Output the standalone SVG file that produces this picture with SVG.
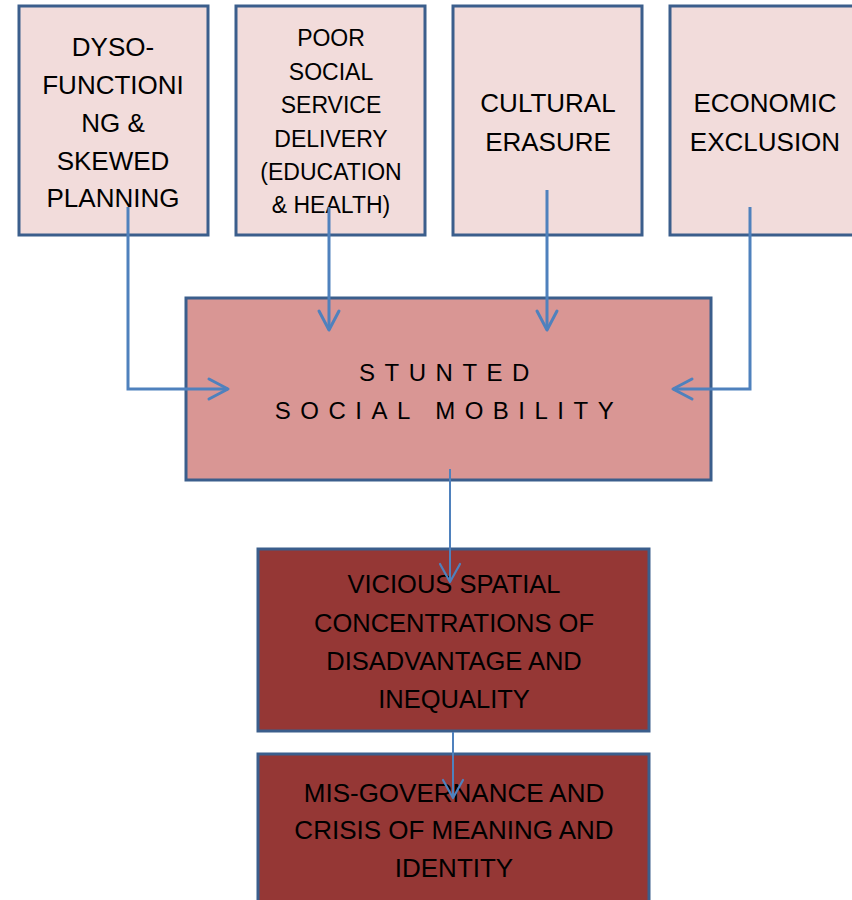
<svg xmlns="http://www.w3.org/2000/svg" width="852" height="900" viewBox="0 0 852 900">
<style>
.top{fill:#f2dcdb;stroke:#3b5e8c;stroke-width:3}
.mid{fill:#d99694;stroke:#3b5e8c;stroke-width:3}
.dark{fill:#953735;stroke:#3b5e8c;stroke-width:3}
text{font-family:"Liberation Sans",Arial,sans-serif;fill:#000;text-anchor:middle}
.conn{fill:none;stroke:#4f81bd;stroke-width:3;stroke-linejoin:miter}
.thin{fill:none;stroke:#4f81bd;stroke-width:2}
</style>
<defs>
<marker id="ah" markerUnits="userSpaceOnUse" viewBox="-24 -14 28 28" markerWidth="28" markerHeight="28" refX="0" refY="0" orient="auto">
<path d="M-19,-10 L0,0 L-19,10" fill="none" stroke="#4f81bd" stroke-width="3" stroke-linecap="round" stroke-linejoin="round"/>
</marker>
<marker id="ahs" markerUnits="userSpaceOnUse" viewBox="-24 -14 28 28" markerWidth="28" markerHeight="28" refX="0" refY="0" orient="auto">
<path d="M-18,-10 L0,0 L-18,10" fill="none" stroke="#4f81bd" stroke-width="2.2" stroke-linecap="round" stroke-linejoin="round"/>
</marker>
</defs>
<g id="node-dyso">
<rect class="top" x="19" y="6" width="189" height="229"/>
<text font-size="26"><tspan x="113" y="56">DYSO-</tspan><tspan x="113" y="94">FUNCTIONI</tspan><tspan x="113" y="132">NG &amp;</tspan><tspan x="113" y="170">SKEWED</tspan><tspan x="113" y="207">PLANNING</tspan></text>
</g>
<g id="node-poor">
<rect class="top" x="236" y="6" width="189" height="229"/>
<text font-size="23"><tspan x="331" y="46">POOR</tspan><tspan x="331" y="80">SOCIAL</tspan><tspan x="331" y="113">SERVICE</tspan><tspan x="331" y="147">DELIVERY</tspan><tspan x="331" y="180">(EDUCATION</tspan><tspan x="331" y="213">&amp; HEALTH)</tspan></text>
</g>
<g id="node-cultural">
<rect class="top" x="453" y="6" width="189" height="229"/>
<text font-size="26"><tspan x="548" y="112">CULTURAL</tspan><tspan x="548" y="151">ERASURE</tspan></text>
</g>
<g id="node-economic">
<rect class="top" x="670" y="6" width="200" height="229"/>
<text font-size="26"><tspan x="765" y="112">ECONOMIC</tspan><tspan x="765" y="151">EXCLUSION</tspan></text>
</g>
<g id="node-stunted">
<rect class="mid" x="186" y="298" width="525" height="182"/>
<text font-size="24" letter-spacing="9.5"><tspan x="449" y="381">STUNTED</tspan><tspan x="449" y="419">SOCIAL MOBILITY</tspan></text>
</g>
<g id="node-vicious">
<rect class="dark" x="258" y="549" width="391" height="182"/>
<text font-size="25.5"><tspan x="454" y="593">VICIOUS SPATIAL</tspan><tspan x="454" y="632">CONCENTRATIONS OF</tspan><tspan x="454" y="670">DISADVANTAGE AND</tspan><tspan x="454" y="708">INEQUALITY</tspan></text>
</g>
<g id="node-misgov">
<rect class="dark" x="258" y="754" width="391" height="160"/>
<text font-size="26"><tspan x="454" y="802">MIS-GOVERNANCE AND</tspan><tspan x="454" y="839">CRISIS OF MEANING AND</tspan><tspan x="454" y="877">IDENTITY</tspan></text>
</g>
<g id="connectors">
<path class="conn" d="M128,207 L128,389 L228,389" marker-end="url(#ah)"/>
<path class="conn" d="M329,207 L329,330" marker-end="url(#ah)"/>
<path class="conn" d="M547,190 L547,330" marker-end="url(#ah)"/>
<path class="conn" d="M750,207 L750,389 L673,389" marker-end="url(#ah)"/>
<path class="thin" d="M450,469 L450,582" marker-end="url(#ahs)"/>
<path class="thin" d="M453,732 L453,798" marker-end="url(#ahs)"/>
</g>
</svg>
